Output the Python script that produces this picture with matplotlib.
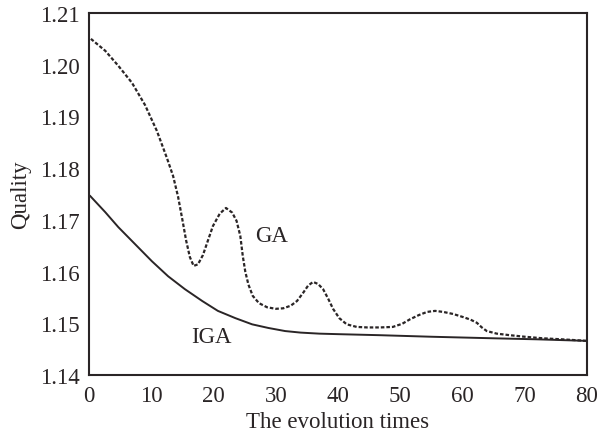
import matplotlib
matplotlib.use("Agg")
import matplotlib.pyplot as plt

# values
ga_x = [0.3, 2.6, 4.7, 6.9, 9.0, 10.9, 12.5, 13.5, 14.3, 15.0, 15.6, 16.2, 16.8,
        17.5, 18.3, 19.1, 19.9, 21.0, 22.0, 23.0, 23.7, 24.3, 24.7, 25.1, 25.6,
        26.3, 27.3, 28.6, 30.0, 31.2, 32.4, 33.4, 34.4, 35.2, 36.0, 36.8, 37.6,
        38.4, 39.2, 40.2, 41.4, 43.0, 44.7, 46.8, 48.8, 50.3, 51.6, 53.0, 54.3,
        55.6, 56.9, 58.5, 60.1, 61.3, 62.3, 63.1, 63.9, 65.5, 67.6, 70.0, 72.9,
        76.0, 80.0]
ga_y = [1.2050, 1.2027, 1.1998, 1.1965, 1.1922, 1.1872, 1.1820, 1.1785, 1.1745,
        1.1700, 1.1660, 1.1628, 1.1611, 1.1614, 1.1632, 1.1660, 1.1688, 1.1712,
        1.1723, 1.1714, 1.1698, 1.1669, 1.1630, 1.1600, 1.1575, 1.1553, 1.1539,
        1.1531, 1.1528, 1.1529, 1.1534, 1.1543, 1.1559, 1.1573, 1.1580, 1.1576,
        1.1566, 1.1548, 1.1528, 1.1510, 1.1498, 1.1493, 1.1492, 1.1492, 1.1493,
        1.1499, 1.1508, 1.1516, 1.1522, 1.1524, 1.1522, 1.1518, 1.1512, 1.1507,
        1.1501, 1.1492, 1.1485, 1.1480, 1.1477, 1.1474, 1.1471, 1.1469, 1.1466]

iga_x = [0.2, 2.6, 4.7, 7.4, 10.1, 12.7, 15.4, 18.2, 20.7, 23.5, 26.2, 28.8,
         31.5, 34.0, 37.0, 40.0, 46.7, 55.0, 65.0, 72.0, 80.0]
iga_y = [1.1746, 1.1715, 1.1686, 1.1653, 1.1620, 1.1591, 1.1566, 1.1543, 1.1524,
         1.1510, 1.1498, 1.1491, 1.1485, 1.1482, 1.1480, 1.1479, 1.1477, 1.1474,
         1.1471, 1.1469, 1.1466]

x_ticks = [0, 10, 20, 30, 40, 50, 60, 70, 80]
y_ticks = [1.14, 1.15, 1.16, 1.17, 1.18, 1.19, 1.20, 1.21]

ink = '#2a2526'
fs = 16.5
plt.rcParams['font.family'] = ['Liberation Serif', 'DejaVu Serif']

fig = plt.figure(figsize=(6.04, 4.35), dpi=100)
ax = fig.add_axes([0.1474, 0.1356, 0.8245, 0.8322])

ax.plot(ga_x, ga_y, color=ink, linewidth=1.6, linestyle=(0, (1.6, 0.9)))
ax.plot(iga_x, iga_y, color=ink, linewidth=1.4)

ax.text(29.4, 1.1669, 'GA', fontsize=fs, color=ink, ha='center', va='center')
ax.text(19.6, 1.1475, 'IGA', fontsize=fs, color=ink, ha='center', va='center')

ax.set_xlim(0, 80)
ax.set_ylim(1.14, 1.21)
ax.set_xticks(x_ticks)
ax.set_yticks(y_ticks)
ax.set_yticklabels(['%.2f' % v for v in y_ticks])
ax.tick_params(length=0, labelsize=fs, labelcolor=ink, pad=7)
ax.tick_params(axis='x', pad=7)

for sp in ax.spines.values():
    sp.set_color(ink)
    sp.set_linewidth(1.5)

ax.set_xlabel('The evolution times', fontsize=fs, color=ink, labelpad=4)
ax.set_ylabel('Quality', fontsize=fs, color=ink, labelpad=6)

fig.savefig('out.png', dpi=100, facecolor='white')
